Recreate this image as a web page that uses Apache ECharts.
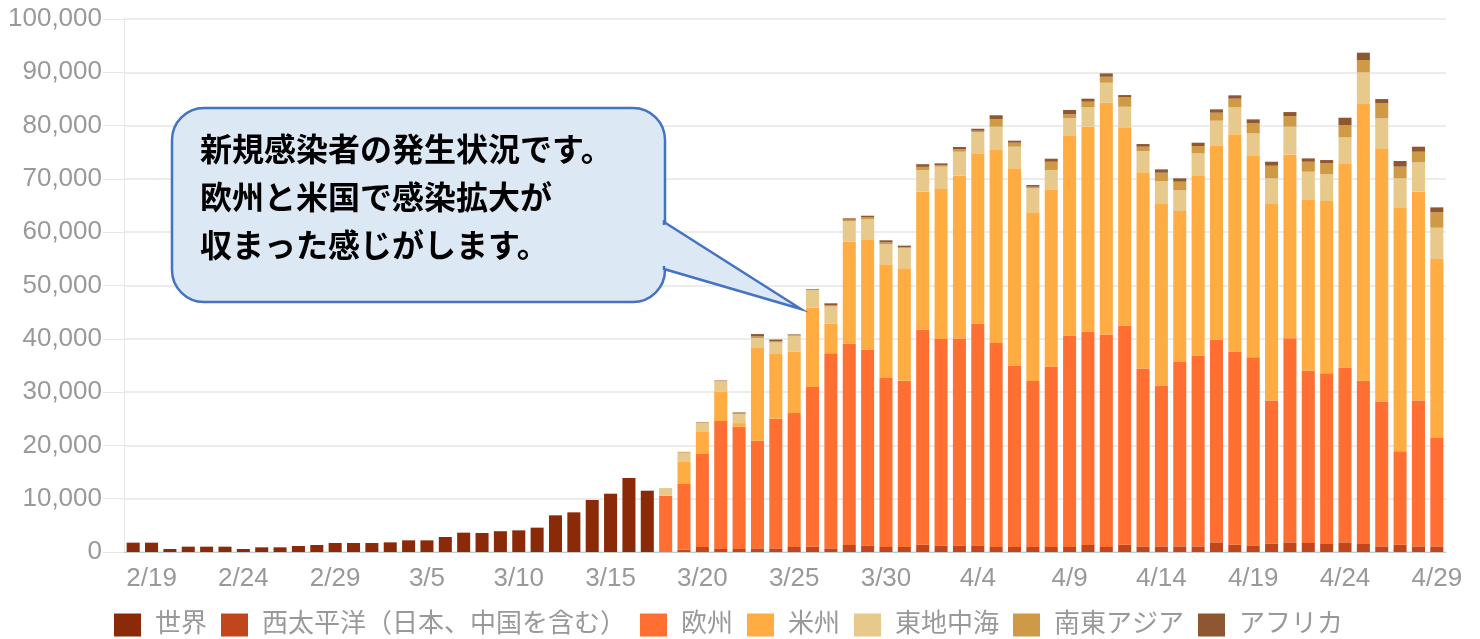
<!DOCTYPE html>
<html>
<head>
    <meta charset="UTF-8">
    <title>新規感染者</title>
    <script src="https://cdn.jsdelivr.net/npm/echarts@6/dist/echarts.min.js"></script>
    <style>
        html, body { margin: 0; padding: 0; background: #fff; }
        #main { width: 1480px; height: 639px; }
    </style>
</head>
<body>
<div id="main"></div>
<script>
    // dates 2/18 .. 4/29
    var days = ['2/18','2/19','2/20','2/21','2/22','2/23','2/24','2/25','2/26','2/27','2/28','2/29',
        '3/1','3/2','3/3','3/4','3/5','3/6','3/7','3/8','3/9','3/10','3/11','3/12','3/13','3/14','3/15','3/16',
        '3/17','3/18','3/19','3/20','3/21','3/22','3/23','3/24','3/25','3/26','3/27','3/28','3/29','3/30','3/31',
        '4/1','4/2','4/3','4/4','4/5','4/6','4/7','4/8','4/9','4/10','4/11','4/12','4/13','4/14','4/15','4/16',
        '4/17','4/18','4/19','4/20','4/21','4/22','4/23','4/24','4/25','4/26','4/27','4/28','4/29'];

    // 2/18 .. 3/17 : world total only
    var world = [1750,1750,560,1000,1000,1000,560,880,880,1130,1310,1690,1690,1690,1810,2190,2190,2810,
        3630,3560,3900,4060,4570,6880,7440,9760,10940,13880,11500];

    // 3/18 .. 4/29 : by region
    var wpro = [0,440,940,560,560,690,690,940,1000,690,1310,1190,940,940,1380,1190,1190,1250,940,940,940,940,
        940,1310,940,1380,1060,1060,1060,1060,1810,1380,1250,1560,1810,1690,1500,1810,1500,1060,1380,1060,1060];
    var euro = [10560,12310,17440,24000,22940,20190,24310,25120,29940,36620,37750,36750,31690,31190,40310,38750,
        38870,41560,38250,34060,31120,33870,39690,40070,39870,41060,33380,30190,34570,35750,38000,36250,35310,
        26880,38310,32310,32060,32810,30630,27190,17500,27380,20310];
    var amro = [0,4130,4130,5570,690,17380,12310,11570,14900,5500,19150,20590,21350,21100,25910,28160,30540,
        31980,36220,36980,31670,33100,37420,38420,43480,37230,36790,34170,28350,33730,36360,40740,37730,36840,
        34480,32170,32290,38170,52050,47480,45790,39160,33600];
    var emro = [1440,1750,1690,1880,1690,1880,2000,2940,3300,3250,3890,3940,3750,3750,4060,4190,4500,3940,4380,
        4060,4500,3750,3310,3630,3750,3870,4000,4180,3940,4250,4750,5060,4250,4820,5190,5180,5060,5000,5810,
        5620,5440,5500,5870];
    var searo = [0,100,100,100,150,300,250,100,100,200,250,300,350,200,600,300,440,300,1400,750,300,1560,750,
        1060,1130,1760,810,1560,1560,1380,1500,1620,1880,2370,2000,1870,2000,2310,2310,2820,2190,2000,2890];
    var afro = [0,50,60,80,150,450,300,150,100,400,250,320,400,300,500,320,440,380,750,380,320,570,820,560,620,
        430,500,630,630,620,630,630,750,750,750,630,630,1380,1380,810,1060,940,930];

    var names = ['世界','西太平洋（日本、中国を含む）','欧州','米州','東地中海','南東アジア','アフリカ'];
    var colors = ['#8b2a08','#c1461b','#ff6f31','#ffad42','#e6c98b','#cf9a46','#8f5731'];

    var lead = world.map(function () { return null; });
    var tail = wpro.map(function () { return null; });
    var seriesData = [
        world.concat(tail),
        lead.concat(wpro),
        lead.concat(euro),
        lead.concat(amro),
        lead.concat(emro),
        lead.concat(searo),
        lead.concat(afro)
    ];

    var chart = echarts.init(document.getElementById('main'), null, {renderer: 'canvas'});
    var labelFont = 'Arial, "Liberation Sans", "Noto Sans CJK JP", sans-serif';
    var noteFont = 'bold 32px "Noto Sans CJK JP", sans-serif';

    var series = names.map(function (n, i) {
        return {
            name: n,
            type: 'bar',
            stack: 'all',
            data: seriesData[i],
            itemStyle: {color: colors[i]},
            barCategoryGap: '29%'
        };
    });

    var option = {
        animation: false,
        color: colors,
        grid: {left: 124, right: 34, top: 19, bottom: 87},
        legend: {
            data: names,
            left: 109,
            top: 607,
            itemWidth: 27,
            itemHeight: 23,
            itemGap: 14,
            icon: 'rect',
            textStyle: {color: '#999', fontSize: 26, fontFamily: labelFont, padding: [0, 0, 0, 9]}
        },
        xAxis: {
            type: 'category',
            data: days,
            axisLine: {lineStyle: {color: '#c8c8c8'}},
            axisTick: {show: false},
            axisLabel: {
                color: '#999',
                fontSize: 26,
                fontFamily: labelFont,
                margin: 14,
                interval: function (i) { return (i - 1) % 5 === 0; }
            }
        },
        yAxis: {
            type: 'value',
            min: 0,
            max: 100000,
            interval: 10000,
            axisLine: {show: true, lineStyle: {color: '#e6e6e6'}},
            axisTick: {show: true, length: 21, lineStyle: {color: '#e6e6e6'}},
            splitLine: {lineStyle: {color: '#e6e6e6', width: 1.5}},
            axisLabel: {
                color: '#999',
                fontSize: 26,
                fontFamily: labelFont,
                margin: 22,
                formatter: function (v) { return v.toLocaleString('en-US'); }
            }
        },
        graphic: [
            {
                type: 'rect', z: 100,
                shape: {x: 172, y: 108, width: 493, height: 194, r: 32},
                style: {fill: '#dde8f5', stroke: '#4472c4', lineWidth: 2.5}
            },
            {
                type: 'polygon', z: 101,
                shape: {points: [[664, 222], [801, 309], [664, 269]]},
                style: {fill: '#dde8f5', stroke: '#4472c4', lineWidth: 2.5}
            },
            {
                type: 'rect', z: 102,
                shape: {x: 660, y: 225, width: 6, height: 41},
                style: {fill: '#dde8f5'}
            },
            {
                type: 'text', z: 103, x: 200, y: 149,
                style: {text: '新規感染者の発生状況です。', fill: '#000', font: noteFont, verticalAlign: 'middle'}
            },
            {
                type: 'text', z: 103, x: 200, y: 197,
                style: {text: '欧州と米国で感染拡大が', fill: '#000', font: noteFont, verticalAlign: 'middle'}
            },
            {
                type: 'text', z: 103, x: 200, y: 245,
                style: {text: '収まった感じがします。', fill: '#000', font: noteFont, verticalAlign: 'middle'}
            }
        ],
        series: series
    };

    chart.setOption(option);
</script>
</body>
</html>
